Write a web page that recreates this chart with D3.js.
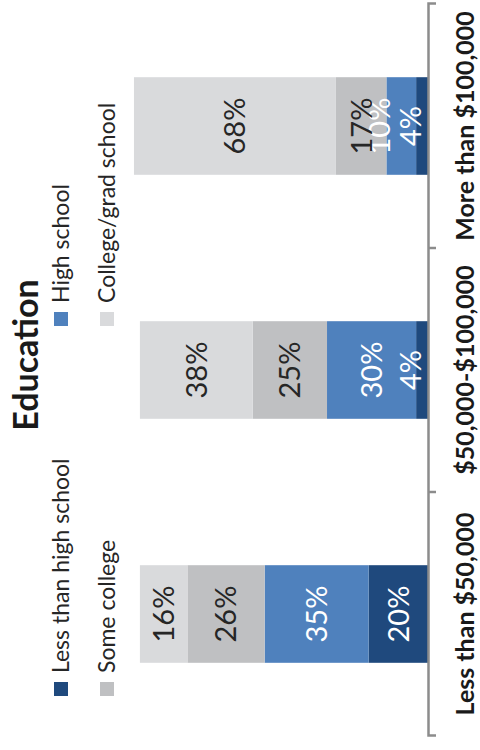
<!DOCTYPE html>
<html>
<head>
<meta charset="utf-8">
<script src="https://cdn.jsdelivr.net/npm/d3@7"></script>
<style>
  html, body { margin: 0; padding: 0; background: #fff; }
  svg { display: block; font-family: Lato, "Open Sans", sans-serif; }
</style>
</head>
<body>
<svg id="chart" width="480" height="750"></svg>
<script>
// Household income groups (category axis)
const categories = ["Less than $50,000", "$50,000-$100,000", "More than $100,000"];

// Education levels, stacked from the baseline outward
const seriesNames = ["Less than high school", "High school", "Some college", "College/grad school"];

// Share of each income group (%)
const lessThanHighSchool = [20, 4, 4];
const highSchool        = [35, 30, 10];
const someCollege       = [26, 25, 17];
const collegeGrad       = [16, 38, 68];

const seriesColors = ["#1f497d", "#4f81bd", "#bfc0c2", "#d9dadc"];
const labelColors  = ["#ffffff", "#ffffff", "#262626", "#262626"];

const seriesValues = [lessThanHighSchool, highSchool, someCollege, collegeGrad];
const rows = categories.map((c, i) => {
  const r = { category: c };
  seriesNames.forEach((s, k) => { r[s] = seriesValues[k][i]; });
  return r;
});
const stacked = d3.stack().keys(seriesNames)(rows);

const svg = d3.select("#chart");
// The whole chart is laid out in a 750x480 frame and turned a quarter turn.
const W = 750, H = 480;
const root = svg.append("g").attr("transform", `translate(0,${W}) rotate(-90)`);

const x = d3.scaleBand()
  .domain(categories)
  .range([14, 746])
  .paddingInner(0.6)
  .paddingOuter(0.3);

const y = d3.scaleLinear().domain([0, 100]).range([428, 131]);

// Title
root.append("text")
  .attr("x", 395).attr("y", 38)
  .attr("text-anchor", "middle")
  .attr("font-size", 34).attr("font-weight", 700)
  .attr("fill", "#1a1a1a")
  .text("Education");

// Legend: two columns, two rows
const legendCols = [54, 424];
const legendRows = [54, 100];
const leg = root.append("g").selectAll("g")
  .data(seriesNames)
  .join("g")
  .attr("transform", (d, i) => `translate(${legendCols[i % 2]},${legendRows[Math.floor(i / 2)]})`);
leg.append("rect")
  .attr("width", 14).attr("height", 14)
  .attr("fill", (d, i) => seriesColors[i]);
leg.append("text")
  .attr("x", 23).attr("y", 15)
  .attr("font-size", 23)
  .attr("fill", "#262626")
  .text(d => d);

// Stacked bars
const layers = root.append("g").selectAll("g")
  .data(stacked)
  .join("g")
  .attr("fill", (d, i) => seriesColors[i]);
layers.selectAll("rect")
  .data(d => d)
  .join("rect")
  .attr("x", d => x(d.data.category))
  .attr("width", x.bandwidth())
  .attr("y", d => y(d[1]))
  .attr("height", d => y(d[0]) - y(d[1]));

// Value labels: centred in each segment, kept inside the plot area and
// nudged away from a neighbour that would sit on top of them.
const labelSize = 29;
const halfBox = 17;
const labelGap = 31;
const labels = [];
categories.forEach((c, ci) => {
  let prev = null;
  stacked.forEach((layer, si) => {
    const d = layer[ci];
    let v = y((d[0] + d[1]) / 2);
    v = Math.min(v, y(0) - halfBox);
    if (prev !== null && prev - v < halfBox) v = prev - labelGap;
    prev = v;
    labels.push({ category: c, value: d[1] - d[0], v, color: labelColors[si] });
  });
});
root.append("g").selectAll("text")
  .data(labels)
  .join("text")
  .attr("x", d => x(d.category) + x.bandwidth() / 2)
  .attr("y", d => d.v + labelSize * 0.36)
  .attr("text-anchor", "middle")
  .attr("font-size", labelSize)
  .attr("fill", d => d.color)
  .text(d => d.value + "%");

// Category axis with ticks between the groups
const axisG = root.append("g")
  .attr("transform", `translate(0,${y(0)})`)
  .call(d3.axisBottom(x).tickSizeInner(0).tickSizeOuter(8).tickPadding(0));
axisG.select(".domain").attr("stroke", "#8c8c8c").attr("stroke-width", 2.5);
axisG.selectAll(".tick text")
  .attr("y", 46).attr("dy", 0)
  .attr("font-size", 25).attr("font-weight", 700)
  .attr("font-family", "Lato, sans-serif")
  .attr("fill", "#1a1a1a");
axisG.selectAll(".between")
  .data(d3.range(1, categories.length))
  .join("line")
  .attr("class", "between")
  .attr("x1", i => x.range()[0] + i * x.step())
  .attr("x2", i => x.range()[0] + i * x.step())
  .attr("y1", 0).attr("y2", 8)
  .attr("stroke", "#8c8c8c").attr("stroke-width", 2.5);
</script>
</body>
</html>
